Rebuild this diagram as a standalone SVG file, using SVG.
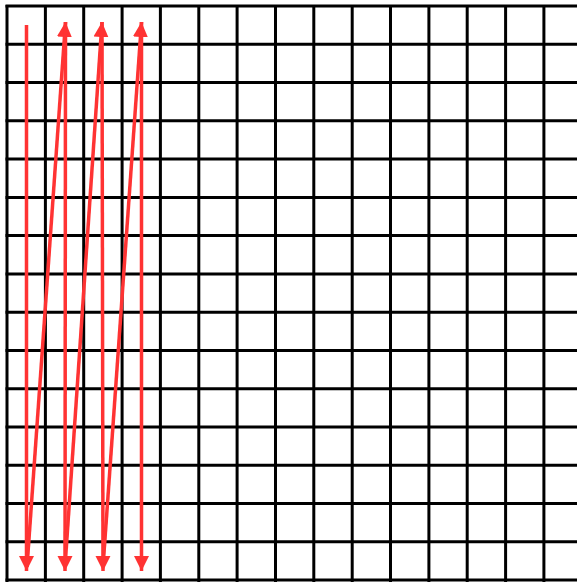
<svg xmlns="http://www.w3.org/2000/svg" width="577" height="582" viewBox="0 0 577 582">
<style>
.g line{stroke:#000;stroke-width:3}
.a line{stroke:#ff3333;stroke-width:3.5;marker-end:url(#ah)}
</style>
<defs>
<marker id="ah" markerUnits="userSpaceOnUse" markerWidth="16" markerHeight="16" viewBox="0 0 16 16" refX="15" refY="8" orient="auto">
<path d="M0,0.5 L15,8 L0,15.5 Z" fill="#ff3333"/>
</marker>
</defs>
<rect width="577" height="582" fill="#fff"/>
<g class="g" id="grid">
<line x1="7" y1="5" x2="7" y2="582"/>
<line x1="45.4" y1="5" x2="45.4" y2="582"/>
<line x1="83.7" y1="5" x2="83.7" y2="582"/>
<line x1="122.1" y1="5" x2="122.1" y2="582"/>
<line x1="160.4" y1="5" x2="160.4" y2="582"/>
<line x1="198.8" y1="5" x2="198.8" y2="582"/>
<line x1="237.1" y1="5" x2="237.1" y2="582"/>
<line x1="275.5" y1="5" x2="275.5" y2="582"/>
<line x1="313.8" y1="5" x2="313.8" y2="582"/>
<line x1="352.2" y1="5" x2="352.2" y2="582"/>
<line x1="390.5" y1="5" x2="390.5" y2="582"/>
<line x1="428.9" y1="5" x2="428.9" y2="582"/>
<line x1="467.2" y1="5" x2="467.2" y2="582"/>
<line x1="505.6" y1="5" x2="505.6" y2="582"/>
<line x1="543.9" y1="5" x2="543.9" y2="582"/>
<line x1="5.5" y1="6" x2="577" y2="6"/>
<line x1="5.5" y1="44.3" x2="577" y2="44.3"/>
<line x1="5.5" y1="82.5" x2="577" y2="82.5"/>
<line x1="5.5" y1="120.8" x2="577" y2="120.8"/>
<line x1="5.5" y1="159.1" x2="577" y2="159.1"/>
<line x1="5.5" y1="197.4" x2="577" y2="197.4"/>
<line x1="5.5" y1="235.6" x2="577" y2="235.6"/>
<line x1="5.5" y1="273.9" x2="577" y2="273.9"/>
<line x1="5.5" y1="312.2" x2="577" y2="312.2"/>
<line x1="5.5" y1="350.4" x2="577" y2="350.4"/>
<line x1="5.5" y1="388.7" x2="577" y2="388.7"/>
<line x1="5.5" y1="427" x2="577" y2="427"/>
<line x1="5.5" y1="465.2" x2="577" y2="465.2"/>
<line x1="5.5" y1="503.5" x2="577" y2="503.5"/>
<line x1="5.5" y1="541.8" x2="577" y2="541.8"/>
<line x1="5.5" y1="580" x2="577" y2="580"/>
</g>
<g class="a" id="connectors">
<line x1="26.5" y1="25" x2="26.5" y2="571"/>
<line x1="27" y1="567" x2="65.5" y2="22"/>
<line x1="65.5" y1="22" x2="65" y2="571"/>
<line x1="65" y1="567" x2="102" y2="22"/>
<line x1="102" y1="22" x2="103" y2="571"/>
<line x1="103" y1="567" x2="141.5" y2="22"/>
<line x1="141.5" y1="22" x2="141.5" y2="571"/>
</g>
</svg>
